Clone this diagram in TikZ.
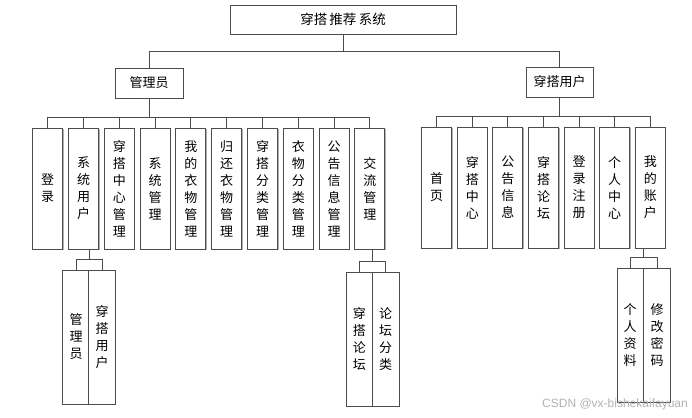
\documentclass[tikz,border=0pt]{standalone}
\usepackage{fontspec}
\setmainfont{Liberation Sans}
\newfontfamily\cjk{Noto Sans CJK SC}
\usetikzlibrary{shadows}
\begin{document}
\begin{tikzpicture}[x=1pt,y=-1pt,
  box/.style={draw=black!70, line width=0.9pt, fill=white, inner sep=0pt, align=center,
    font=\cjk\fontsize{13}{17}\selectfont,
    drop shadow={shadow xshift=1pt, shadow yshift=-1pt, fill=black!30, opacity=1}},
  conn/.style={draw=black!70, line width=0.9pt},
  vbox/.style={box, minimum width=30pt, minimum height=121pt},
  lbox/.style={box, minimum width=26.5pt, minimum height=134pt}]
\useasboundingbox (0,0) rectangle (692,417);
\fill[white] (0,0) rectangle (692,417);

% top levels
\node[box, minimum width=226pt, minimum height=29pt, font=\cjk\fontsize{13.5}{17}\selectfont] (root) at (343,19.5) {穿搭\,推荐\,系统};
\node[box, minimum width=68pt, minimum height=30pt] (admin) at (149,83) {管理员};
\node[box, minimum width=67pt, minimum height=30pt] (user) at (559.5,82) {穿搭用户};

% admin children
\node[vbox] (a1) at (47.7,188.5) {登\\录};
\node[vbox] (a2) at (83.5,188.5) {系\\统\\用\\户};
\node[vbox] (a3) at (119.3,188.5) {穿\\搭\\中\\心\\管\\理};
\node[vbox] (a4) at (155.1,188.5) {系\\统\\管\\理};
\node[vbox] (a5) at (190.9,188.5) {我\\的\\衣\\物\\管\\理};
\node[vbox] (a6) at (226.7,188.5) {归\\还\\衣\\物\\管\\理};
\node[vbox] (a7) at (262.5,188.5) {穿\\搭\\分\\类\\管\\理};
\node[vbox] (a8) at (298.3,188.5) {衣\\物\\分\\类\\管\\理};
\node[vbox] (a9) at (334.1,188.5) {公\\告\\信\\息\\管\\理};
\node[vbox] (a10) at (369.9,188.5) {交\\流\\管\\理};

% user children
\node[vbox] (b1) at (436.7,187.5) {首\\页};
\node[vbox] (b2) at (472.3,187.5) {穿\\搭\\中\\心};
\node[vbox] (b3) at (507.9,187.5) {公\\告\\信\\息};
\node[vbox] (b4) at (543.5,187.5) {穿\\搭\\论\\坛};
\node[vbox] (b5) at (579.1,187.5) {登\\录\\注\\册};
\node[vbox] (b6) at (614.7,187.5) {个\\人\\中\\心};
\node[vbox] (b7) at (650.3,187.5) {我\\的\\账\\户};

% leaves
\node[lbox] (s1) at (76,337) {管\\理\\员};
\node[lbox] (s2) at (102,337) {穿\\搭\\用\\户};
\node[lbox] (c1) at (359.3,339) {穿\\搭\\论\\坛};
\node[lbox] (c2) at (385.7,339) {论\\坛\\分\\类};
\node[lbox] (d1) at (630.2,335) {个\\人\\资\\料};
\node[lbox] (d2) at (657,335) {修\\改\\密\\码};

% bus points
\coordinate (rbus) at (343,51);
\coordinate (abus) at (149,117);
\coordinate (bbus) at (559.5,116);
\coordinate (sbus) at (89,259);
\coordinate (cbus) at (372.5,261.5);
\coordinate (dbus) at (643.6,257.5);

% connectors
\draw[conn] (root.south) -- (rbus) -| (admin.north);
\draw[conn] (rbus) -| (user.north);
\draw[conn] (admin.south) -- (abus);
\foreach \i in {1,...,10} \draw[conn] (abus) -| (a\i.north);
\draw[conn] (user.south) -- (bbus);
\foreach \i in {1,...,7} \draw[conn] (bbus) -| (b\i.north);
\draw[conn] (a2.south -| sbus) -- (sbus) -| (s1.north);
\draw[conn] (sbus) -| (s2.north);
\draw[conn] (a10.south -| cbus) -- (cbus) -| (c1.north);
\draw[conn] (cbus) -| (c2.north);
\draw[conn] (b7.south -| dbus) -- (dbus) -| (d1.north);
\draw[conn] (dbus) -| (d2.north);

% watermark
\node[anchor=east, text=black!30, inner sep=0pt, font=\fontsize{12}{14}\selectfont] (wm) at (688,404) {CSDN @vx-bishekaifayuan};
\end{tikzpicture}
\end{document}
